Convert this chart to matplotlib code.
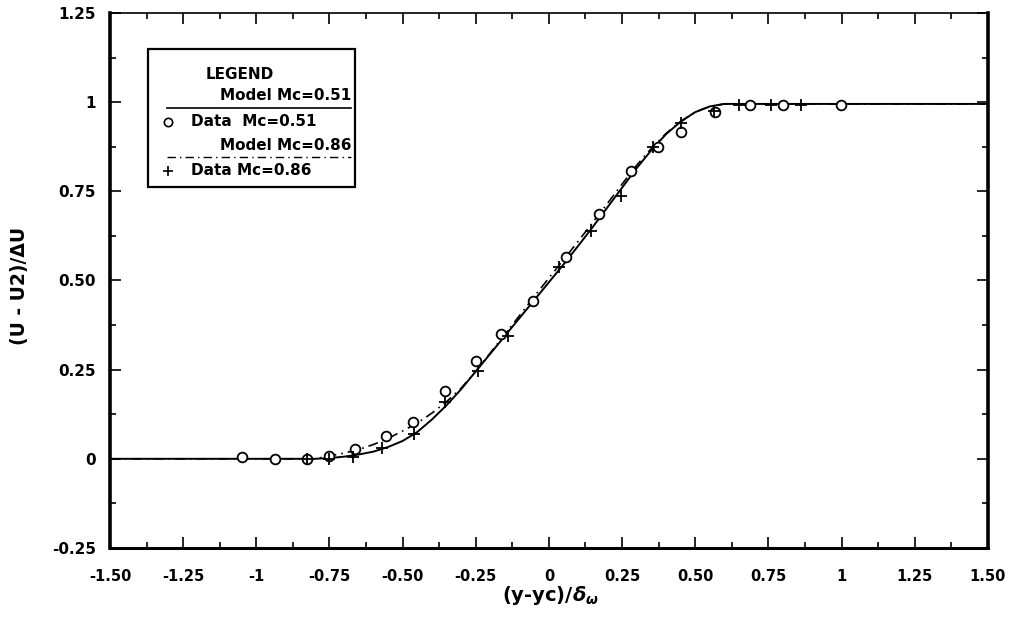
import numpy as np
import matplotlib
matplotlib.use("Agg")
import matplotlib.pyplot as plt
from matplotlib.ticker import MultipleLocator, FixedLocator, FixedFormatter

plt.rcParams['font.family'] = ['DejaVu Sans']
plt.rcParams['font.weight'] = 'bold'
plt.rcParams['mathtext.fontset'] = 'dejavusans'
plt.rcParams['mathtext.default'] = 'bfit'

# model curves
model_x = [-1.5, -0.80, -0.75, -0.70, -0.65, -0.60, -0.55, -0.50, -0.45, -0.40,
           -0.35, -0.30, -0.25, -0.20, -0.15, -0.10, -0.05, 0.0, 0.05, 0.10,
           0.15, 0.20, 0.25, 0.30, 0.35, 0.40, 0.45, 0.50, 0.55, 0.60, 0.65, 1.5]
model_051 = [0.0, 0.0, 0.002, 0.006, 0.012, 0.02, 0.033, 0.05, 0.075, 0.11,
             0.15, 0.195, 0.245, 0.295, 0.345, 0.395, 0.445, 0.495, 0.545, 0.597,
             0.65, 0.705, 0.76, 0.815, 0.865, 0.91, 0.945, 0.972, 0.988, 0.995, 0.995, 0.995]
model_086 = [0.0, 0.0, 0.008, 0.016, 0.026, 0.04, 0.057, 0.078, 0.10, 0.128,
             0.16, 0.198, 0.245, 0.297, 0.35, 0.402, 0.455, 0.507, 0.558, 0.61,
             0.663, 0.716, 0.77, 0.823, 0.87, 0.912, 0.946, 0.972, 0.988, 0.995, 0.995, 0.995]

# measured points
data051_x = [-1.05, -0.935, -0.825, -0.75, -0.664, -0.558, -0.466, -0.356, -0.25, -0.164,
             -0.055, 0.058, 0.171, 0.281, 0.373, 0.452, 0.568, 0.688, 0.801, 0.997]
data051_y = [0.005, 0.0, 0.0, 0.008, 0.028, 0.064, 0.104, 0.19, 0.275, 0.35,
             0.443, 0.566, 0.686, 0.807, 0.874, 0.916, 0.972, 0.992, 0.992, 0.992]
data086_x = [-0.825, -0.75, -0.67, -0.57, -0.46, -0.356, -0.243, -0.14, 0.034, 0.144,
             0.247, 0.356, 0.452, 0.565, 0.65, 0.76, 0.863]
data086_y = [0.0, 0.0, 0.005, 0.03, 0.07, 0.16, 0.246, 0.345, 0.538, 0.639,
             0.737, 0.874, 0.941, 0.975, 0.992, 0.992, 0.992]

xticks = [-1.5, -1.25, -1, -0.75, -0.5, -0.25, 0, 0.25, 0.5, 0.75, 1, 1.25, 1.5]
xticklabels = ['-1.50', '-1.25', '-1', '-0.75', '-0.50', '-0.25', '0', '0.25', '0.50',
               '0.75', '1', '1.25', '1.50']
yticks = [-0.25, 0, 0.25, 0.5, 0.75, 1, 1.25]
yticklabels = ['-0.25', '0', '0.25', '0.50', '0.75', '1', '1.25']

fig = plt.figure(figsize=(10.09, 6.21), dpi=100)
ax = fig.add_axes([0.109, 0.1176, 0.870, 0.8615])

dashdot = (0, (6, 3, 1, 3))
ax.plot(model_x, model_051, color='black', lw=1.4)
ax.plot(model_x, model_086, color='black', lw=1.2, linestyle=dashdot)
ax.plot(data051_x, data051_y, linestyle='none', marker='o', markersize=7,
        markerfacecolor='white', markeredgecolor='black', markeredgewidth=1.3)
ax.plot(data086_x, data086_y, linestyle='none', marker='+', markersize=8,
        color='black', markeredgewidth=1.3)

ax.set_xlim(-1.5, 1.5)
ax.set_ylim(-0.25, 1.25)
ax.xaxis.set_major_locator(FixedLocator(xticks))
ax.xaxis.set_major_formatter(FixedFormatter(xticklabels))
ax.yaxis.set_major_locator(FixedLocator(yticks))
ax.yaxis.set_major_formatter(FixedFormatter(yticklabels))
ax.xaxis.set_minor_locator(MultipleLocator(0.125))
ax.yaxis.set_minor_locator(MultipleLocator(0.125))
ax.tick_params(which='both', direction='in', top=True, right=True, width=1.2)
ax.tick_params(which='major', length=8)
ax.tick_params(which='minor', length=4)
ax.tick_params(axis='x', pad=15, labelsize=10.5)
ax.tick_params(axis='y', pad=10, labelsize=11)

ax.spines['left'].set_linewidth(2.6)
ax.spines['bottom'].set_linewidth(2.2)
ax.spines['right'].set_linewidth(2.6)
ax.spines['top'].set_linewidth(1.2)

ax.set_xlabel(r'(y-yc)/$\delta_\omega$', fontsize=14, fontweight='bold')
ax.set_ylabel('(U - U2)/ΔU', fontsize=13.5, fontweight='bold')
ax.xaxis.set_label_coords(0.502, -0.068)
ax.yaxis.set_label_coords(-0.092, 0.49)

# hand-made legend box like the original
tr = ax.transAxes
ax.add_patch(plt.Rectangle((0.043, 0.674), 0.236, 0.258, transform=tr,
                           fill=False, edgecolor='black', lw=1.6, zorder=5))
ax.text(0.148, 0.885, 'LEGEND', transform=tr, ha='center', va='center', fontsize=11)
ax.text(0.275, 0.845, 'Model Mc=0.51', transform=tr, ha='right', va='center', fontsize=11)
ax.plot([0.065, 0.275], [0.822, 0.822], transform=tr, color='black', lw=1.2)
ax.plot([0.066], [0.797], transform=tr, marker='o', markersize=6,
        markerfacecolor='white', markeredgecolor='black', markeredgewidth=1.2)
ax.text(0.092, 0.797, 'Data  Mc=0.51', transform=tr, ha='left', va='center', fontsize=11)
ax.text(0.275, 0.752, 'Model Mc=0.86', transform=tr, ha='right', va='center', fontsize=11)
ax.plot([0.065, 0.275], [0.731, 0.731], transform=tr, color='black', lw=1.0,
        linestyle=dashdot)
ax.plot([0.066], [0.705], transform=tr, marker='+', markersize=7, color='black',
        markeredgewidth=1.2)
ax.text(0.092, 0.705, 'Data Mc=0.86', transform=tr, ha='left', va='center', fontsize=11)

fig.savefig('out.png', dpi=100)
